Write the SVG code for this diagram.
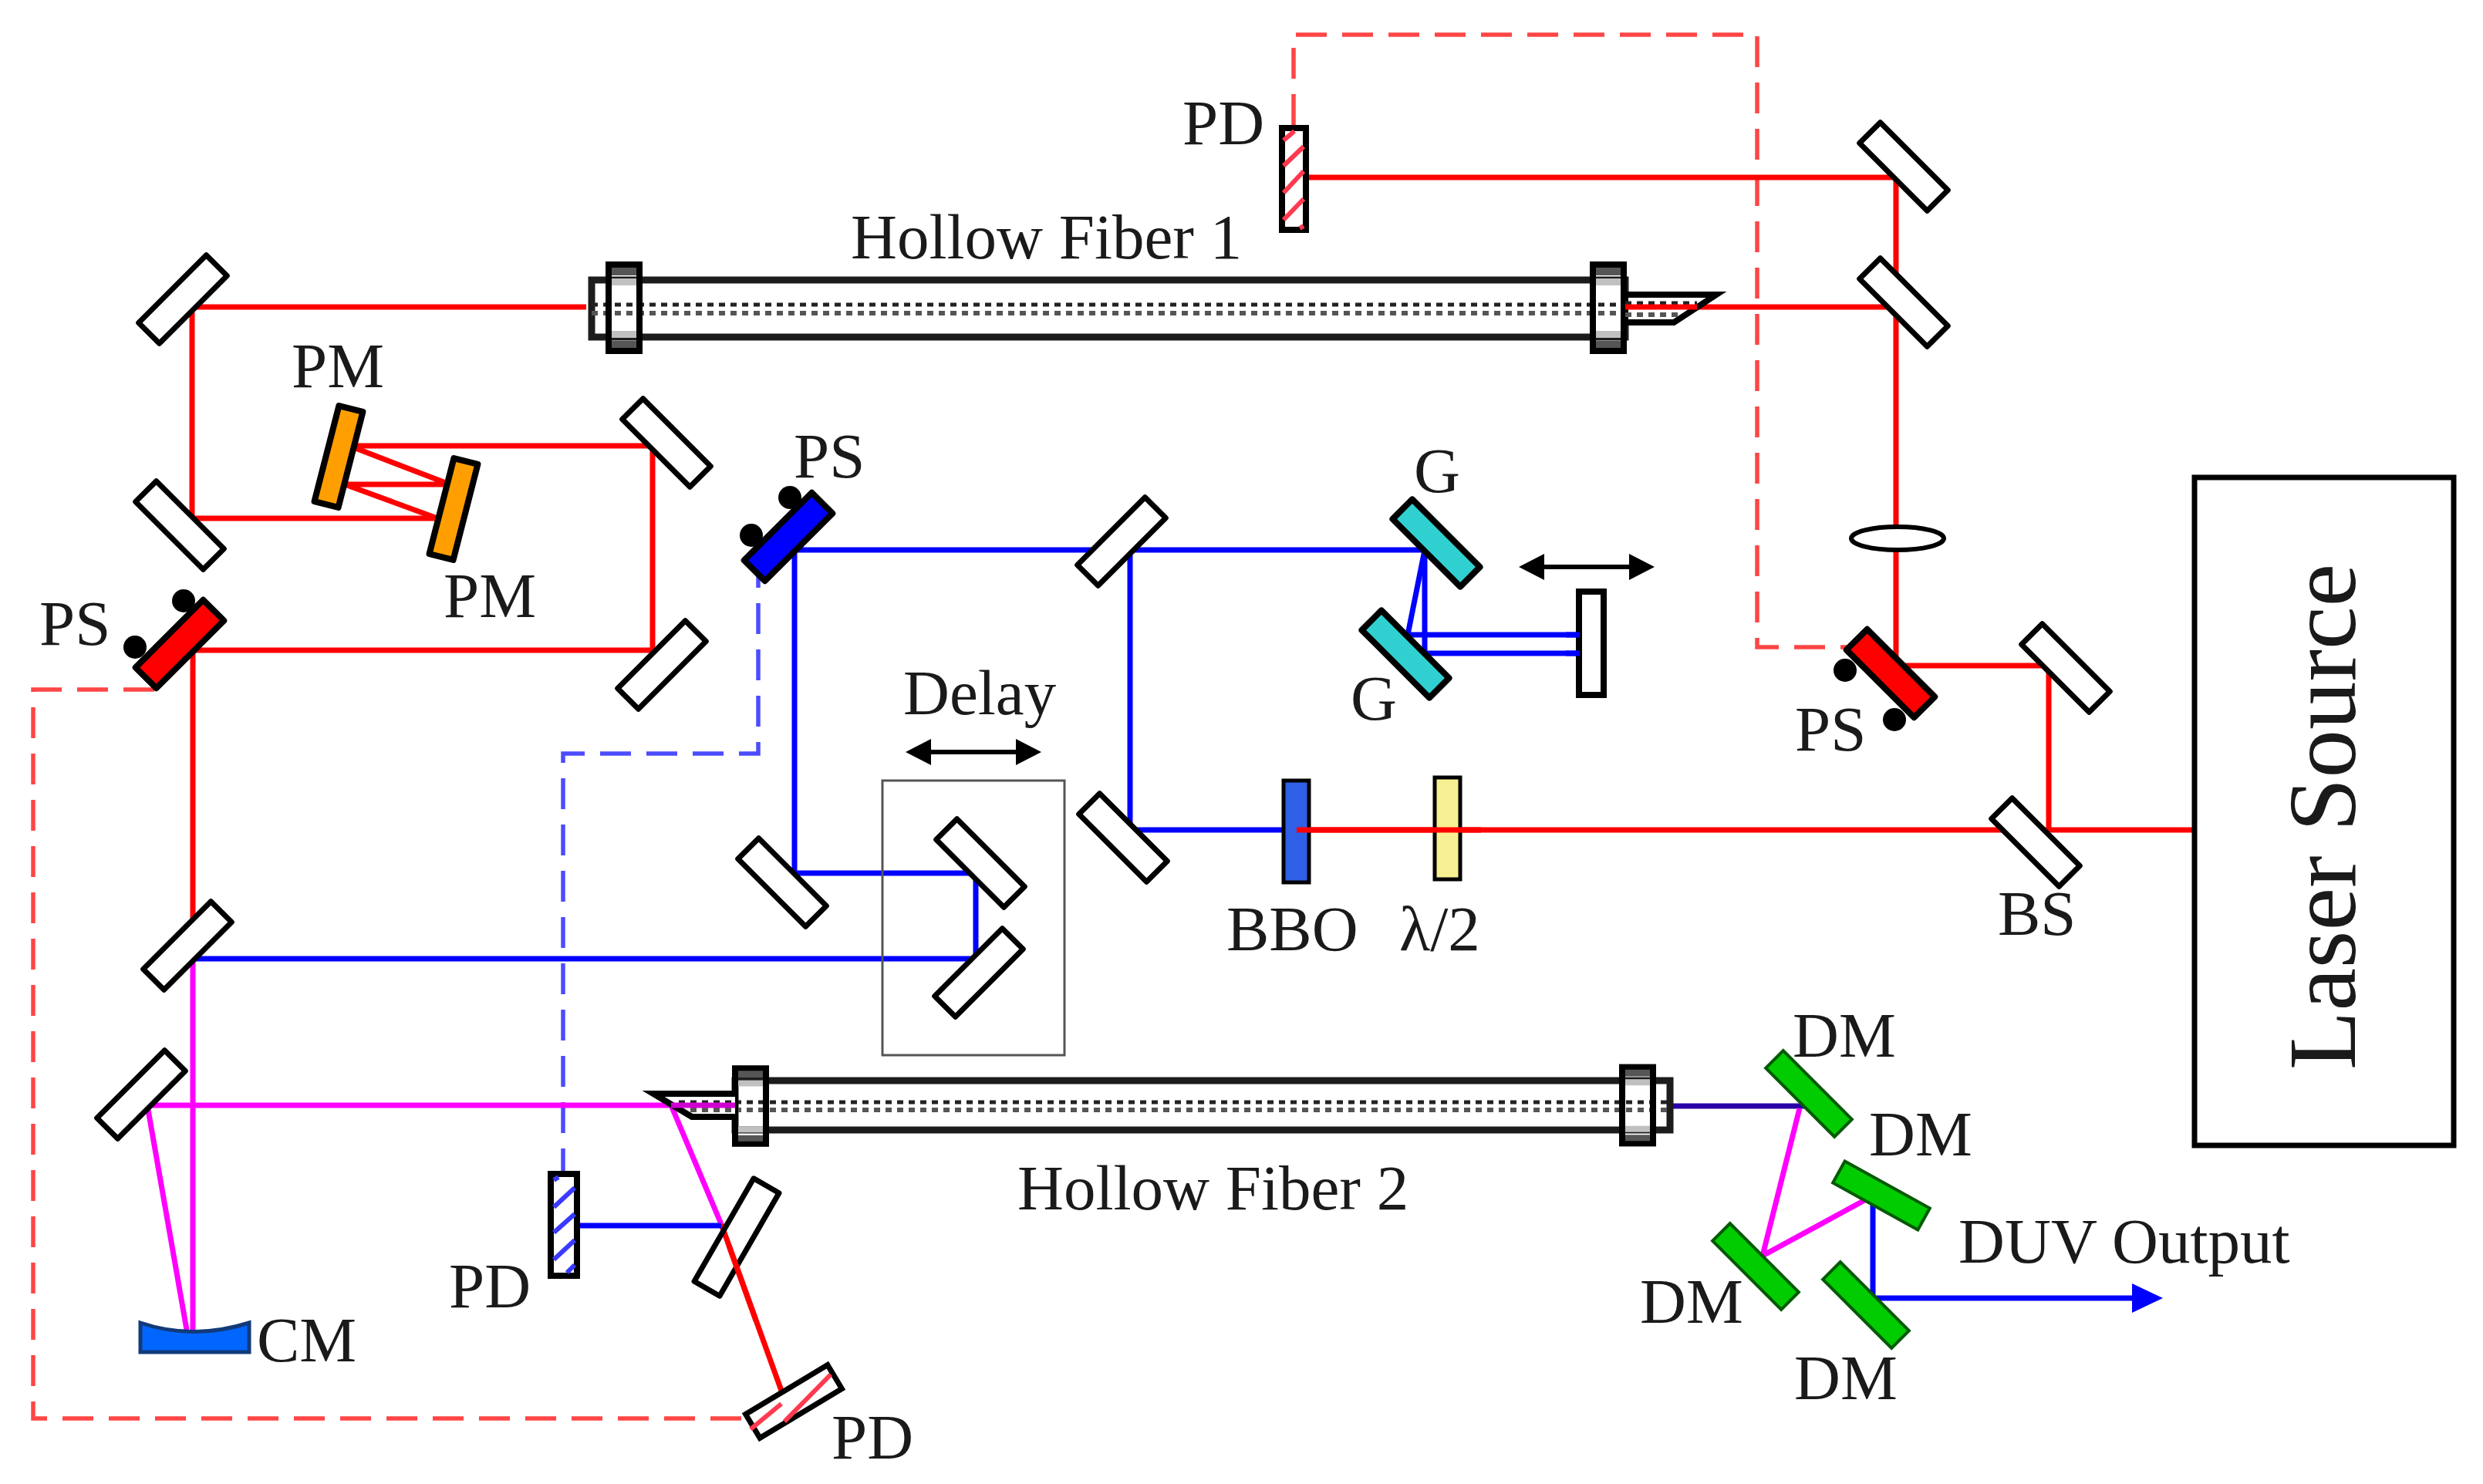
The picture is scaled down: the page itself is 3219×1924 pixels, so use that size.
<svg xmlns="http://www.w3.org/2000/svg" width="3219" height="1924" viewBox="0 0 3219 1924">
<style>
text{font-family:"Liberation Serif","Times New Roman",serif;font-size:83px;fill:#1a1a1a}
.m{fill:#fff;stroke:#000;stroke-width:7;stroke-linejoin:round}
.ps{stroke:#000;stroke-width:8;stroke-linejoin:round}
.dm{fill:#00cc00;stroke:#045a04;stroke-width:4}
.g{fill:#30d0d0;stroke:#000;stroke-width:8;stroke-linejoin:round}
.pm{fill:#ff9e00;stroke:#000;stroke-width:8;stroke-linejoin:round}
.beam{fill:none;stroke-width:7;stroke-linejoin:miter}
.r{stroke:#ff0000}.b{stroke:#0000ff}.v{stroke:#ff00ff}
.rd{fill:none;stroke:#ff4545;stroke-width:5.5;stroke-dasharray:40 20}
.bd{fill:none;stroke:#4c4cff;stroke-width:5.5;stroke-dasharray:40 20}
.hr{stroke:#ff3a50;stroke-width:6;fill:none}
.hb{stroke:#3a3aff;stroke-width:6;fill:none}
.tube{fill:none;stroke:#1c1c1c;stroke-width:9}
.d1{stroke:#222;stroke-width:5;stroke-dasharray:8 7;fill:none}
.d2{stroke:#555;stroke-width:6;stroke-dasharray:8 7;fill:none}
.band{fill:#555}
.lb{fill:#c0c0c0}
</style>
<defs>
<rect id="mir" class="m" x="-62" y="-19" width="124" height="38"/>
<g id="flange">
<rect class="band" x="-20" y="-55" width="40" height="13"/>
<rect class="lb" x="-20" y="-38" width="40" height="9"/>
<rect class="band" x="-20" y="43" width="40" height="13"/>
<rect class="lb" x="-20" y="30" width="40" height="9"/>
<rect x="-20" y="-56" width="40" height="112" fill="none" stroke="#000" stroke-width="8"/>
</g>
<path id="dbl" d="M-88 0L-55 -17V-3H55V-17L88 0L55 17V3H-55V17z" fill="#000"/>
</defs>

<g id="connectors">
<path class="rd" d="M1677 162V45H2278V839H2395"/>
<path class="rd" d="M200 894H43V1839H968"/>
<path class="bd" d="M983 722V977H730V1522"/>
<path class="beam r" d="M1697 230H2458V860"/>
<path class="beam r" d="M2105 398H2458"/>
<path class="beam r" d="M760 398H249V672H567"/>
<path class="beam r" d="M453 578H846V843H250V1243"/>
<path class="beam r" d="M453 578L583 628H447L567 672" stroke-width="6"/>
<path class="beam r" d="M2458 863H2656V1076"/>
<path class="beam r" d="M2845 1076H1681"/>
<path class="beam b" d="M1681 1076H1465V713"/>
<path class="beam b" d="M1030 713H1847V847H2048"/>
<path class="beam b" d="M1847 713L1825 823H2048" stroke-width="6"/>
<path class="beam b" d="M1030 713V1132H1265V1243H250"/>
<path class="beam v" d="M250 1243V1724"/>
<path class="beam v" d="M191 1433H870L935 1587"/>
<path class="beam v" d="M191 1433L242 1724"/>
<path class="beam r" d="M935 1587L1013 1803"/>
<path class="beam b" d="M749 1589H935"/>
<path class="beam" stroke="#2a00a8" d="M2165 1434H2340"/>
<path class="beam v" d="M2333 1437L2285 1628L2423 1553" stroke-width="6"/>
<path class="beam b" d="M2428 1553V1683H2770"/>
<path d="M2804 1683L2764 1664V1702z" fill="#0000ff"/>
</g>

<g id="fiber1">
<rect class="tube" x="767" y="363" width="1340" height="74"/>
<path class="d1" d="M767 395H2107"/>
<path class="d2" d="M767 406H2107"/>
<use href="#flange" transform="translate(809 399)"/>
<use href="#flange" transform="translate(2085 399)"/>
<path d="M2107 382H2225L2170 418H2107z" fill="#fff" stroke="#000" stroke-width="8" stroke-linejoin="miter"/>
<path class="d1" d="M2107 393H2200"/>
<path class="d2" d="M2107 408H2175"/>
<path class="beam r" d="M2107 398H2200"/>
<text x="1103" y="335">Hollow Fiber 1</text>
</g>
<g id="fiber2">
<rect class="tube" x="953" y="1401" width="1212" height="64"/>
<path class="d1" d="M953 1429H2165"/>
<path class="d2" d="M953 1439H2165"/>
<use href="#flange" transform="translate(973 1434) scale(1 .88)"/>
<use href="#flange" transform="translate(2123 1433) scale(1 .89)"/>
<path d="M953 1418H847L897 1448H953" fill="#fff" stroke="#000" stroke-width="8"/>
<path class="d1" d="M880 1429H953"/>
<path class="d2" d="M895 1439H953"/>
<path class="beam" stroke="#d000d0" d="M870 1433H953"/>
<text x="1319" y="1568">Hollow Fiber 2</text>
</g>

<g id="mirror-top-1"><use href="#mir" transform="translate(2468 216) rotate(45)"/></g>
<g id="mirror-top-2"><use href="#mir" transform="translate(2468 392) rotate(45)"/></g>
<g id="mirror-l1"><use href="#mir" transform="translate(237 388) rotate(-45)"/></g>
<g id="mirror-l2"><use href="#mir" transform="translate(233 681) rotate(45)"/></g>
<g id="mirror-l3"><use href="#mir" transform="translate(864 574) rotate(45)"/></g>
<g id="mirror-l4"><use href="#mir" transform="translate(858 862) rotate(-45)"/></g>
<g id="mirror-m1"><use href="#mir" transform="translate(1454 702) rotate(-45)"/></g>
<g id="mirror-m2"><use href="#mir" transform="translate(1456 1086) rotate(45)"/></g>
<g id="mirror-m3"><use href="#mir" transform="translate(1014 1144) rotate(45)"/></g>
<g id="delay">
<rect x="1144" y="1012" width="236" height="356" fill="none" stroke="#555" stroke-width="3"/>
<use href="#mir" transform="translate(1271 1119) rotate(45)"/>
<use href="#mir" transform="translate(1269 1261) rotate(-45)"/>
<use href="#dbl" transform="translate(1262 975)"/>
<text x="1171" y="926">Delay</text>
</g>
<g id="mirror-b1"><use href="#mir" transform="translate(243 1226) rotate(-45)"/></g>
<g id="mirror-b2"><use href="#mir" transform="translate(183 1419) rotate(-45)"/></g>
<g id="mirror-r1"><use href="#mir" transform="translate(2678 866) rotate(45)"/></g>
<g id="bs"><use href="#mir" transform="translate(2639 1092) rotate(45)"/><text x="2590" y="1212">BS</text></g>

<g id="lens"><ellipse cx="2460" cy="698" rx="60" ry="15" fill="#fff" stroke="#000" stroke-width="6"/></g>
<g id="ps-left">
<circle cx="238" cy="779" r="15"/><circle cx="175" cy="839" r="15"/>
<rect class="ps" fill="#ff0000" transform="translate(233 835) rotate(-45)" x="-62" y="-19" width="124" height="38"/>
<text x="51" y="836">PS</text>
</g>
<g id="ps-mid">
<circle cx="1024" cy="645" r="15"/><circle cx="974" cy="694" r="15"/>
<rect class="ps" fill="#0000ff" transform="translate(1022 696) rotate(-45)" x="-62" y="-19" width="124" height="38"/>
<text x="1029" y="619">PS</text>
</g>
<g id="ps-right">
<circle cx="2392" cy="869" r="15"/><circle cx="2456" cy="933" r="15"/>
<rect class="ps" fill="#ff0000" transform="translate(2451 873) rotate(45)" x="-62" y="-19" width="124" height="38"/>
<text x="2327" y="973">PS</text>
</g>
<g id="pm1"><rect class="pm" transform="translate(439 592) rotate(14.4)" x="-16" y="-64" width="32" height="128"/><text x="378" y="502">PM</text></g>
<g id="pm2"><rect class="pm" transform="translate(588 660) rotate(14.4)" x="-16" y="-64" width="32" height="128"/><text x="575" y="800">PM</text></g>
<g id="grating1"><rect class="g" transform="translate(1862 704) rotate(45)" x="-62" y="-18" width="124" height="36"/><text x="1833" y="638">G</text></g>
<g id="grating2"><rect class="g" transform="translate(1822 848) rotate(45)" x="-62" y="-18" width="124" height="36"/><text x="1751" y="933">G</text></g>
<g id="retro"><rect x="2047" y="767" width="32" height="134" fill="#fff" stroke="#000" stroke-width="8"/>
<path class="beam b" d="M2030 823H2048M2030 847H2048"/>
<use href="#dbl" transform="translate(2057 735)"/></g>

<g id="pd-top">
<rect x="1662" y="166" width="31" height="132" fill="#fff" stroke="#000" stroke-width="8"/>
<path class="hr" d="M1664 182L1678 170M1664 215L1690 190M1664 250L1690 222M1664 285L1690 258M1685 296L1690 293"/>
<text x="1533" y="187">PD</text>
</g>
<g id="pd-mid">
<rect x="714" y="1522" width="34" height="132" fill="#fff" stroke="#000" stroke-width="8"/>
<path class="hb" d="M718 1530L724 1526M718 1565L745 1540M718 1598L745 1574M718 1633L745 1608M735 1650L745 1640"/>
<text x="582" y="1695">PD</text>
</g>
<g id="bs-rot"><rect class="m" transform="translate(955 1604) rotate(30)" x="-19" y="-77" width="38" height="154" style="fill:none"/></g>
<path class="beam r" d="M945 1615L980 1712"/>
<g id="pd-bottom">
<rect transform="translate(1029 1817) rotate(-31)" x="-62" y="-18" width="124" height="36" fill="#fff" stroke="#000" stroke-width="7"/>
<path class="hr" d="M973 1853L1013 1820M1017 1843L1077 1782"/>
<text x="1078" y="1891">PD</text>
</g>
<g id="bbo"><rect x="1664" y="1012" width="33" height="132" fill="#2f5fe6" stroke="#000" stroke-width="5"/><text x="1590" y="1232">BBO</text></g>
<g id="hwp"><rect x="1860" y="1008" width="33" height="132" fill="#f6f092" stroke="#000" stroke-width="5"/><text x="1814" y="1232">λ/2</text></g>
<path class="beam r" d="M1681 1076H1920"/>
<g id="cm"><path d="M182 1715Q250 1738 323 1715V1753H182z" fill="#0066ff" stroke="#123a7a" stroke-width="5"/><text x="333" y="1765">CM</text></g>
<g id="dm1"><rect class="dm" transform="translate(2345 1418) rotate(45)" x="-63" y="-16" width="126" height="32"/><text x="2324" y="1370">DM</text></g>
<g id="dm2"><rect class="dm" transform="translate(2439 1550) rotate(29)" x="-63" y="-16" width="126" height="32"/><text x="2423" y="1498">DM</text></g>
<g id="dm3"><rect class="dm" transform="translate(2276 1642) rotate(45)" x="-63" y="-16" width="126" height="32"/><text x="2126" y="1715">DM</text></g>
<g id="dm4"><rect class="dm" transform="translate(2419 1692) rotate(45)" x="-63" y="-16" width="126" height="32"/><text x="2326" y="1814">DM</text></g>
<g id="output"><text x="2539" y="1637">DUV Output</text></g>
<g id="laser"><rect x="2845" y="619" width="336" height="866" fill="#fff" stroke="#000" stroke-width="7"/>
<text transform="translate(3053 1059) rotate(-90)" text-anchor="middle" style="font-size:125px">Laser Source</text></g>
</svg>
